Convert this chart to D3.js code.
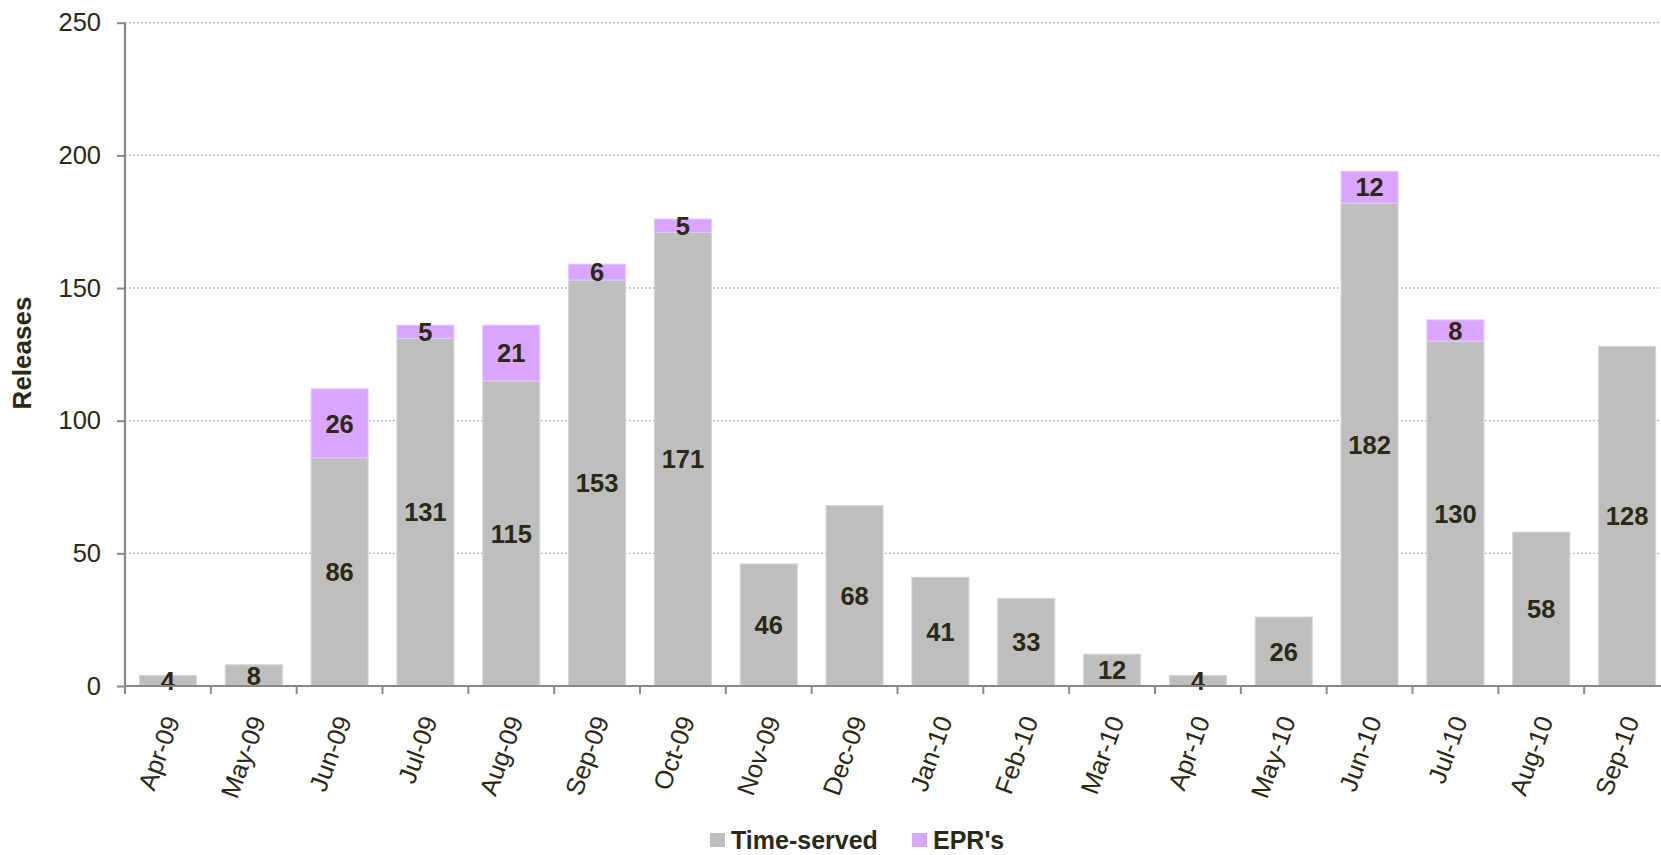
<!DOCTYPE html>
<html>
<head>
<meta charset="utf-8">
<script src="https://cdn.jsdelivr.net/npm/d3@7"></script>
<style>
  html, body { margin: 0; padding: 0; background: #fff; overflow: hidden; }
  svg { display: block; font-family: "Liberation Sans", Arial, sans-serif; }
</style>
</head>
<body>
<svg id="chart" width="1661" height="855"></svg>
<script>
// Chart data
var months = ['Apr-09', 'May-09', 'Jun-09', 'Jul-09', 'Aug-09', 'Sep-09', 'Oct-09', 'Nov-09', 'Dec-09',
  'Jan-10', 'Feb-10', 'Mar-10', 'Apr-10', 'May-10', 'Jun-10', 'Jul-10', 'Aug-10', 'Sep-10'];
var timeServed = [4, 8, 86, 131, 115, 153, 171, 46, 68, 41, 33, 12, 4, 26, 182, 130, 58, 128];
var eprs = [0, 0, 26, 5, 21, 6, 5, 0, 0, 0, 0, 0, 0, 0, 12, 8, 0, 0];
var seriesNames = ['Time-served', "EPR's"];
var yTicks = [0, 50, 100, 150, 200, 250];

var textColor = '#2b2816';
var colors = ['#bebebe', '#d9a6ff'];

var svg = d3.select('#chart');
// plot box (right edge runs past the picture, as in the original)
var plotLeft = 125, plotRight = 1670, plotTop = 22.7, plotBottom = 686;

var x = d3.scaleBand().domain(months).range([plotLeft, plotRight]).paddingInner(0.335).paddingOuter(0.1675);
var y = d3.scaleLinear().domain([0, 250]).range([plotBottom, plotTop]);

// Gridlines (dotted)
svg.append('g').selectAll('line')
  .data(yTicks.slice(1))
  .join('line')
    .attr('x1', plotLeft).attr('x2', plotRight)
    .attr('y1', function(d){ return y(d); }).attr('y2', function(d){ return y(d); })
    .attr('stroke', '#a99ad4')
    .attr('stroke-width', 1.3)
    .attr('stroke-dasharray', '1.5,2.5');

// Stack the two series
var rows = months.map(function(m, i){ return { month: m, ts: timeServed[i], epr: eprs[i] }; });
var stack = d3.stack().keys(['ts', 'epr'])(rows);

stack.forEach(function(layer, k) {
  svg.append('g').selectAll('rect')
    .data(layer.filter(function(d){ return d[1] - d[0] > 0; }))
    .join('rect')
      .attr('x', function(d){ return x(d.data.month); })
      .attr('width', x.bandwidth())
      .attr('y', function(d){ return y(d[1]); })
      .attr('height', function(d){ return y(d[0]) - y(d[1]); })
      .attr('fill', colors[k])
      .attr('stroke', k === 0 ? '#d6d6d6' : '#e6c8ff')
      .attr('stroke-width', 1);
});

// Value labels, centred in each segment
stack.forEach(function(layer) {
  svg.append('g').selectAll('text')
    .data(layer.filter(function(d){ return d[1] - d[0] > 0; }))
    .join('text')
      .attr('x', function(d){ return x(d.data.month) + x.bandwidth() / 2; })
      .attr('y', function(d){ return y((d[0] + d[1]) / 2); })
      .attr('dy', '0.36em')
      .attr('text-anchor', 'middle')
      .attr('font-size', 25.5)
      .attr('font-weight', 'bold')
      .attr('fill', textColor)
      .text(function(d){ return d[1] - d[0]; });
});

// Y axis
var yAxis = svg.append('g')
  .attr('transform', 'translate(' + plotLeft + ',0)')
  .call(d3.axisLeft(y).tickValues(yTicks).tickSize(8).tickPadding(16));
yAxis.select('.domain').attr('stroke', '#888888').attr('stroke-width', 2.2).attr('d', 'M0,' + plotTop + 'V' + plotBottom);
yAxis.selectAll('.tick line').attr('stroke', '#888888').attr('stroke-width', 2);
yAxis.selectAll('.tick text').attr('font-size', 25.5).attr('fill', textColor).attr('font-family', '"Liberation Sans", Arial, sans-serif');

// X axis
var xAxis = svg.append('g')
  .attr('transform', 'translate(0,' + plotBottom + ')');
xAxis.append('line')
  .attr('x1', plotLeft).attr('x2', plotRight)
  .attr('stroke', '#888888').attr('stroke-width', 2.2);
var step = x.step();
xAxis.selectAll('line.tk')
  .data(d3.range(months.length + 1))
  .join('line')
    .attr('class', 'tk')
    .attr('x1', function(i){ return plotLeft + i * step; })
    .attr('x2', function(i){ return plotLeft + i * step; })
    .attr('y1', 0).attr('y2', 8)
    .attr('stroke', '#888888').attr('stroke-width', 2);
xAxis.selectAll('text')
  .data(months)
  .join('text')
    .attr('transform', function(d){
      return 'translate(' + (x(d) + x.bandwidth() / 2 + 4) + ',' + 31 + ') rotate(-70)';
    })
    .attr('text-anchor', 'end')
    .attr('dy', '0.35em')
    .attr('font-size', 25.5)
    .attr('fill', textColor)
    .text(function(d){ return d; });

// Y axis title
svg.append('text')
  .attr('transform', 'translate(22,353) rotate(-90)')
  .attr('text-anchor', 'middle')
  .attr('dy', '0.35em')
  .attr('font-size', 26)
  .attr('font-weight', 'bold')
  .attr('fill', textColor)
  .text('Releases');

// Legend
var legendX = [710, 912];
var legend = svg.append('g').selectAll('g')
  .data(seriesNames)
  .join('g')
    .attr('transform', function(d, i){ return 'translate(' + legendX[i] + ',833)'; });
legend.append('rect')
  .attr('width', 15).attr('height', 14)
  .attr('fill', function(d, i){ return colors[i]; });
legend.append('text')
  .attr('x', 21).attr('y', 7)
  .attr('dy', '0.36em')
  .attr('font-size', 25)
  .attr('font-weight', 'bold')
  .attr('fill', textColor)
  .text(function(d){ return d; });
</script>
</body>
</html>
